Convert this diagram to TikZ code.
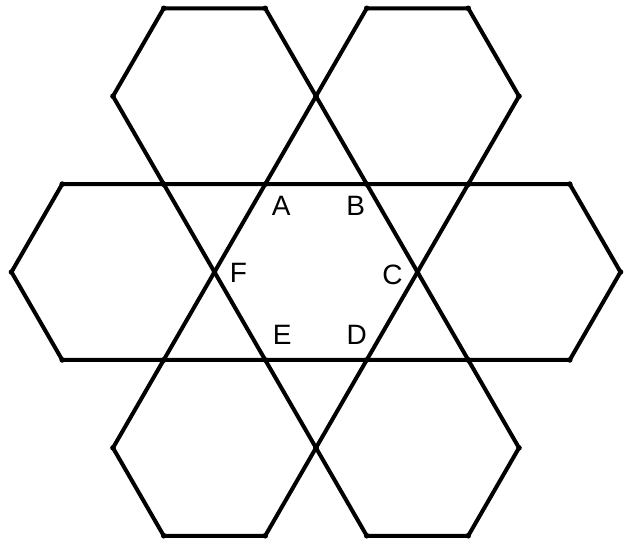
\documentclass[tikz,border=0pt]{standalone}
\usepackage{fontspec}
\setmainfont{Liberation Sans}
\usepackage{tikz}
\tikzset{
  hexline/.style={draw=black, line width=2pt, line join=round},
  vertexdot/.style={fill=black},
  vlabel/.style={inner sep=0pt, font=\fontsize{14}{16}\selectfont}
}

\begin{document}
\begin{tikzpicture}[x=50.75pt, y=50.75pt]
  \useasboundingbox (-3.113,-2.660) rectangle (3.064,2.680);
  % Central hexagon ABCDEF
  \coordinate (C) at (0:1);
  \coordinate (B) at (60:1);
  \coordinate (A) at (120:1);
  \coordinate (F) at (180:1);
  \coordinate (E) at (240:1);
  \coordinate (D) at (300:1);
  \draw[hexline] (A) -- (B) -- (C) -- (D) -- (E) -- (F) -- cycle;
  % Six outer hexagons, one on each vertex
  \foreach \a in {0,60,...,300} {
    \begin{scope}[shift={(\a:2)}]
      \draw[hexline] (0:1) -- (60:1) -- (120:1) -- (180:1) -- (240:1) -- (300:1) -- cycle;
      \foreach \b in {0,60,...,300}
        \fill[vertexdot] (\b:1) circle (1.4pt);
    \end{scope}
  }
  % Labels
  \node[vlabel] (labA) at ([shift={(0.158,-0.217)}]A) {A};
  \node[vlabel] (labB) at ([shift={(-0.108,-0.217)}]B) {B};
  \node[vlabel] (labC) at ([shift={(-0.246,-0.030)}]C) {C};
  \node[vlabel] (labD) at ([shift={(-0.099,0.246)}]D) {D};
  \node[vlabel] (labE) at ([shift={(0.167,0.246)}]E) {E};
  \node[vlabel] (labF) at ([shift={(0.236,-0.010)}]F) {F};
\end{tikzpicture}
\end{document}
